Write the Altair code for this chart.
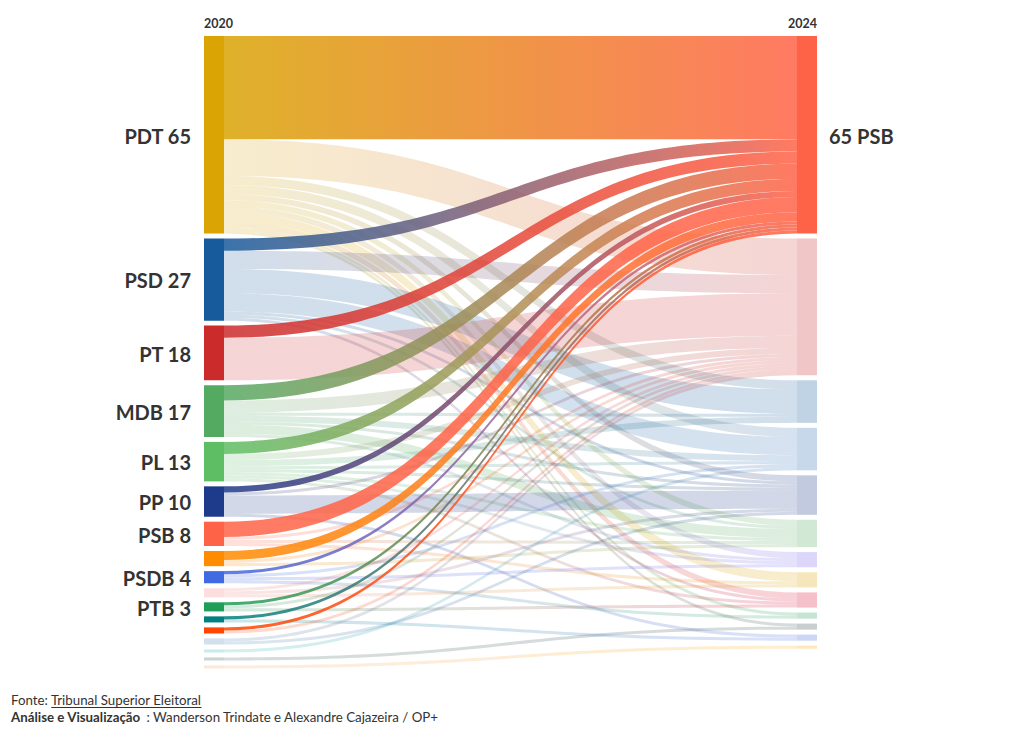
import altair as alt

# ---------------- data ----------------
# 2020 (left column) parties, mayors elected, colours
left_parties = ["PDT", "PSD", "PT", "MDB", "PL", "PP", "PSB", "PROS", "PSDB",
                "CIDADANIA", "PTB", "AVANTE", "SOLIDARIEDADE", "PSC", "PV", "PMN", "PRTB"]
left_values = [65, 27, 18, 17, 13, 10, 8, 5, 4, 3, 3, 2, 2, 2, 1, 1, 1]
left_colors = ["#D9A404", "#175B9C", "#CB2B2B", "#55AA62", "#5DBE64", "#1E3A8A", "#FF6347",
               "#FF8C00", "#4169E1", "#F08080", "#1F9E58", "#008080", "#FF4500", "#4682B4",
               "#20B2AA", "#2F4F4F", "#F4A460"]
left_labelled = ["PDT", "PSD", "PT", "MDB", "PL", "PP", "PSB", "PSDB", "PTB"]

# 2024 (right column)
right_parties = ["PSB", "PT", "PSD", "UNIÃO", "PP", "MDB", "REPUBLICANOS", "PDT", "PODE",
                 "PRD", "AGIR", "PSDB", "PRTB"]
right_values = [65, 45, 14, 14, 13, 9, 5, 5, 5, 2, 2, 2, 1]
right_colors = ["#FF6347", "#CB2B2B", "#175B9C", "#2E6DB4", "#1E3A8A", "#55AA62", "#7B68EE",
                "#D9A404", "#DC143C", "#1F9E58", "#2F4F4F", "#4169E1", "#FFA500"]
right_labelled = ["PSB"]
highlight_target = "PSB"

# flows 2020 -> 2024
flow_source = ["PDT"] * 11 + ["PSD"] * 7 + ["PT"] * 2 + ["MDB"] * 7 + ["PL"] * 8 + ["PP"] * 4 + \
              ["PSB"] * 4 + ["PROS"] * 3 + ["PSDB"] * 4 + ["CIDADANIA"] * 3 + ["PTB"] * 3 + \
              ["AVANTE"] * 2 + ["SOLIDARIEDADE"] * 2 + ["PSC"] * 2 + ["PV", "PMN", "PRTB"]
flow_target = ["PSB", "PT", "PSD", "UNIÃO", "PP", "MDB", "REPUBLICANOS", "PDT", "PODE", "PRD", "AGIR",
               "PSB", "PT", "PSD", "UNIÃO", "PP", "MDB", "PODE",
               "PSB", "PT",
               "PSB", "PT", "PSD", "UNIÃO", "PP", "MDB", "REPUBLICANOS",
               "PSB", "PT", "PSD", "UNIÃO", "PP", "MDB", "REPUBLICANOS", "PODE",
               "PSB", "PT", "PP", "PSDB",
               "PSB", "PT", "MDB", "PDT",
               "PSB", "PT", "MDB",
               "PSB", "UNIÃO", "REPUBLICANOS", "PRD",
               "PT", "PP", "PDT",
               "PSB", "PT", "PODE",
               "PSB", "PSDB",
               "PSB", "PT",
               "PT", "PP",
               "UNIÃO", "AGIR", "PRTB"]
flow_value = [34, 12, 3, 3, 2, 2, 2, 3, 2, 1, 1,
              4, 6, 8, 6, 1, 1, 1,
              4, 14,
              5, 4, 1, 2, 1, 3, 1,
              4, 2, 2, 1, 1, 1, 1, 1,
              2, 1, 6, 1,
              5, 1, 1, 1,
              3, 1, 1,
              1, 1, 1, 1,
              1, 1, 1,
              1, 1, 1,
              1, 1,
              1, 1,
              1, 1,
              1, 1, 1]

# ---------------- layout (sankey) ----------------
W, H = 1004, 721
K, GAP, TOP = 3.04, 4.95, 28.0      # px per mayor, node gap, top of columns
NODE_W = 20.0
XL0 = 196.0
XR1 = 809.0
XL1, XR0 = XL0 + NODE_W, XR1 - NODE_W
INK = "#333333"
FONT = "Lato"
FOOT_SIZE = 13.3


def pale(c, a):
    r, g, b = int(c[1:3], 16), int(c[3:5], 16), int(c[5:7], 16)
    return "#%02x%02x%02x" % tuple(round(255 - a * (255 - v)) for v in (r, g, b))


def stack(values):
    out, y = [], TOP
    for v in values:
        out.append([y, y + v * K])
        y += v * K + GAP
    return out


L = stack(left_values)
R = stack(right_values)
li = {p: i for i, p in enumerate(left_parties)}
ri = {p: i for i, p in enumerate(right_parties)}
links = list(zip(flow_source, flow_target, flow_value))
n = len(links)

s_pos, t_pos = [None] * n, [None] * n
cur = [a for a, _ in L]
for j in sorted(range(n), key=lambda j: (li[links[j][0]], ri[links[j][1]])):
    s = li[links[j][0]]
    h = links[j][2] * K
    s_pos[j] = (cur[s], cur[s] + h)
    cur[s] += h
cur = [a for a, _ in R]
for j in sorted(range(n), key=lambda j: (ri[links[j][1]], li[links[j][0]])):
    t = ri[links[j][1]]
    h = links[j][2] * K
    t_pos[j] = (cur[t], cur[t] + h)
    cur[t] += h

active_left = {s for s, t, v in links if t == highlight_target}

STEPS = 64
pale_rows, hi_rows = [], []
for j, (s, t, v) in enumerate(links):
    c0 = left_colors[li[s]]
    c1 = right_colors[ri[t]]
    s0, s1 = s_pos[j]
    t0, t1 = t_pos[j]
    rows = hi_rows if t == highlight_target else pale_rows
    for k in range(STEPS + 1):
        u = k / STEPS
        fx = 1.5 * u - 1.5 * u * u + u ** 3
        fy = 3 * u * u - 2 * u ** 3
        rows.append({
            "lid": j,
            "x": XL1 + (XR0 - XL1) * fx,
            "y": s0 + (t0 - s0) * fy,
            "y2": s1 + (t1 - s1) * fy,
            "grad": {"gradient": "linear", "x1": 0, "y1": 0, "x2": 1, "y2": 0,
                     "stops": [{"offset": 0, "color": c0}, {"offset": 1, "color": c1}]},
        })

node_rows = []
for i, p in enumerate(left_parties):
    node_rows.append({"x": XL0, "x2": XL1, "y": L[i][0], "y2": L[i][1],
                      "fill": left_colors[i] if p in active_left else pale(left_colors[i], 0.25)})
for i, p in enumerate(right_parties):
    node_rows.append({"x": XR0, "x2": XR1, "y": R[i][0], "y2": R[i][1],
                      "fill": right_colors[i] if p == highlight_target else pale(right_colors[i], 0.27)})

left_lab = [{"x": XL0 - 13, "y": (L[i][0] + L[i][1]) / 2 + 8.7, "text": f"{p} {left_values[i]}"}
            for i, p in enumerate(left_parties) if p in left_labelled]
right_lab = [{"x": XR1 + 12, "y": (R[i][0] + R[i][1]) / 2 + 8.7, "text": f"{right_values[i]} {p}"}
             for i, p in enumerate(right_parties) if p in right_labelled]

# ---------------- chart ----------------
xs = alt.Scale(domain=[0, W], range=[0, W], nice=False, zero=False)
ys = alt.Scale(domain=[0, H], range=[0, H], nice=False, zero=False)


def X(f="x"):
    return alt.X(f + ":Q", scale=xs, axis=None)


def Y(f="y"):
    return alt.Y(f + ":Q", scale=ys, axis=None)


pale_links = alt.Chart(alt.Data(values=pale_rows)).mark_area(fillOpacity=0.2).encode(
    x=X(), y=Y(), y2="y2:Q", detail="lid:N", color=alt.Color("grad:N", scale=None))
hi_links = alt.Chart(alt.Data(values=hi_rows)).mark_area(fillOpacity=0.85).encode(
    x=X(), y=Y(), y2="y2:Q", detail="lid:N", color=alt.Color("grad:N", scale=None))
nodes = alt.Chart(alt.Data(values=node_rows)).mark_rect().encode(
    x=X(), x2="x2:Q", y=Y(), y2="y2:Q", color=alt.Color("fill:N", scale=None))

lab_l = alt.Chart(alt.Data(values=left_lab)).mark_text(
    align="right", baseline="alphabetic", font=FONT, fontSize=20, fontWeight="bold", color=INK
).encode(x=X(), y=Y(), text="text:N")
lab_r = alt.Chart(alt.Data(values=right_lab)).mark_text(
    align="left", baseline="alphabetic", font=FONT, fontSize=20, fontWeight="bold", color=INK
).encode(x=X(), y=Y(), text="text:N")

yl = alt.Chart(alt.Data(values=[{"x": XL0, "y": TOP - 7.7, "text": "2020"}])).mark_text(
    align="left", baseline="alphabetic", font=FONT, fontSize=12.5, fontWeight="bold", color=INK
).encode(x=X(), y=Y(), text="text:N")
yr = alt.Chart(alt.Data(values=[{"x": XR1, "y": TOP - 7.7, "text": "2024"}])).mark_text(
    align="right", baseline="alphabetic", font=FONT, fontSize=12.5, fontWeight="bold", color=INK
).encode(x=X(), y=Y(), text="text:N")

foot1 = alt.Chart(alt.Data(values=[{"x": 3, "y": 697, "text": "Fonte: Tribunal Superior Eleitoral"}])).mark_text(
    align="left", baseline="alphabetic", font=FONT, fontSize=FOOT_SIZE, color=INK
).encode(x=X(), y=Y(), text="text:N")
underline = alt.Chart(alt.Data(values=[{"x": 43.3, "x2": 193.5, "y": 699.5}])).mark_rule(
    color=INK, strokeWidth=1
).encode(x=X(), x2="x2:Q", y=Y())
foot2a = alt.Chart(alt.Data(values=[{"x": 3, "y": 713.7, "text": "Análise e Visualização"}])).mark_text(
    align="left", baseline="alphabetic", font=FONT, fontSize=FOOT_SIZE, fontWeight="bold", color=INK
).encode(x=X(), y=Y(), text="text:N")
foot2b = alt.Chart(alt.Data(values=[{"x": 138.5, "y": 713.7,
                                     "text": ": Wanderson Trindate e Alexandre Cajazeira / OP+"}])).mark_text(
    align="left", baseline="alphabetic", font=FONT, fontSize=FOOT_SIZE, color=INK
).encode(x=X(), y=Y(), text="text:N")

chart = alt.layer(
    pale_links, hi_links, nodes, lab_l, lab_r, yl, yr, foot1, underline, foot2a, foot2b
).properties(
    width=W, height=H, autosize=alt.AutoSizeParams(type="none"), padding=0
).configure_view(stroke=None)

chart.save("out.html", embed_options={"renderer": "svg", "actions": False})
